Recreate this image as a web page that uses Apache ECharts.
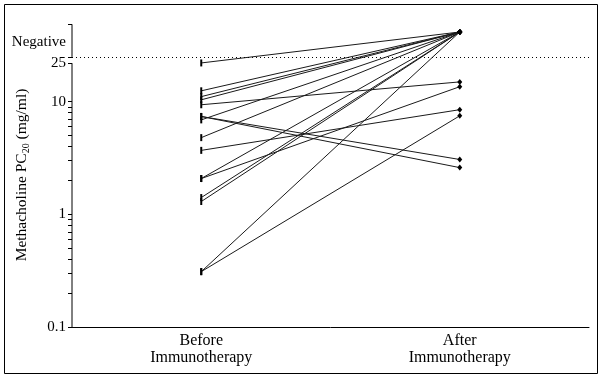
<!DOCTYPE html>
<html>
<head>
<meta charset="utf-8">
<script src="https://cdn.jsdelivr.net/npm/echarts@6/dist/echarts.min.js"></script>
<style>html,body{margin:0;padding:0;background:#fff}#c{width:601px;height:376px}</style>
</head>
<body>
<div id="c"></div>
<script>
// Categories
const categories = ['Before\nImmunotherapy', 'After\nImmunotherapy'];
// Plotted position used for "Negative" results
const NEG = 41.6;
// PC20 before immunotherapy (mg/ml), one per subject
const beforeValues = [22.1, 12.5, 11.1, 10.4, 9.4, 7.4, 7.4, 6.9, 4.8, 3.7, 2.08, 2.08, 1.41, 1.30, 0.31, 0.31];
// PC20 after immunotherapy (mg/ml); NEG = negative
const afterValues  = [NEG, NEG, NEG, NEG, 15.0, 3.07, 2.6, NEG, NEG, 8.5, NEG, 13.6, NEG, NEG, NEG, 7.5];
// Y tick labels
const yLabelValues = [0.1, 1, 10, 22, 33.7];
const yLabelTexts  = ['0.1', '1', '10', '25', 'Negative'];
const yTickValues  = [0.1,0.2,0.3,0.4,0.5,0.6,0.7,0.8,0.9,1,2,3,4,5,6,7,8,9,10,22,25,48.7];
const NEG_LINE = 25;
const AXIS_LOW = [0.1, 22];
const AXIS_NEG = [25, 48.7];

const FONT = 'Liberation Serif';
const series = beforeValues.map((b, i) => ({
  type: 'line',
  data: [
    {value: b, symbol: 'rect', symbolSize: [2, 7]},
    {value: afterValues[i], symbol: 'diamond', symbolSize: [5, 6]}
  ],
  lineStyle: {color: '#1a1a1a', width: 1},
  itemStyle: {color: '#000'},
  showSymbol: true,
  silent: true,
  animation: false,
  z: 3
}));
// y axis line segments (drawn on a hidden value x-axis at its min)
series.push({
  type: 'line', xAxisIndex: 1, data: [[0, AXIS_LOW[0]], [0, AXIS_LOW[1]]], clip: false,
  symbol: 'none', lineStyle: {color: '#000', width: 1}, animation: false, silent: true,
  markLine: {
    symbol: 'none', silent: true, animation: false, label: {show: false},
    lineStyle: {color: '#000', type: [1, 3], width: 1},
    data: [{yAxis: NEG_LINE}]
  }
});
series.push({
  type: 'line', xAxisIndex: 1, data: [[0, AXIS_NEG[0]], [0, AXIS_NEG[1]]], clip: false,
  symbol: 'none', lineStyle: {color: '#000', width: 1}, animation: false, silent: true
});

const chart = echarts.init(document.getElementById('c'));
chart.setOption({
  animation: false,
  backgroundColor: '#fff',
  textStyle: {fontFamily: FONT},
  grid: {left: 72, right: 12, top: 23, bottom: 49, containLabel: false, outerBoundsMode: 'none'},
  xAxis: [{
    type: 'category', data: categories, boundaryGap: true,
    axisLine: {lineStyle: {color: '#000', width: 1}},
    axisTick: {show: false},
    axisLabel: {color: '#000', fontFamily: FONT, fontSize: 16, lineHeight: 17, margin: 5}
  }, {
    type: 'value', min: 0, max: 1, show: false
  }],
  yAxis: {
    type: 'log', min: 0.1, max: 50, logBase: 10,
    name: 'Methacholine PC{sub|20} (mg/ml)',
    nameLocation: 'middle', nameGap: 41, nameRotate: 90, nameMoveOverlap: false,
    nameTextStyle: {color: '#000', fontFamily: FONT, fontSize: 15.5,
      rich: {sub: {fontSize: 10, fontFamily: FONT, color: '#000', padding: [8, 0, 0, 0]}}},
    axisLine: {show: false},
    splitLine: {show: false},
    axisTick: {show: true, inside: false, length: 4, lineStyle: {color: '#000'}, customValues: yTickValues},
    axisLabel: {
      color: '#000', fontFamily: FONT, fontSize: 15, margin: 6,
      customValues: yLabelValues,
      formatter: v => { const k = yLabelValues.findIndex(x => Math.abs(x - v) < 1e-6); return k >= 0 ? yLabelTexts[k] : ''; }
    }
  },
  graphic: [{
    type: 'rect', shape: {x: 4.5, y: 4.5, width: 593, height: 369},
    style: {fill: 'none', stroke: '#000', lineWidth: 1}, silent: true, z: -1
  }],
  series: series
});
</script>
</body>
</html>
